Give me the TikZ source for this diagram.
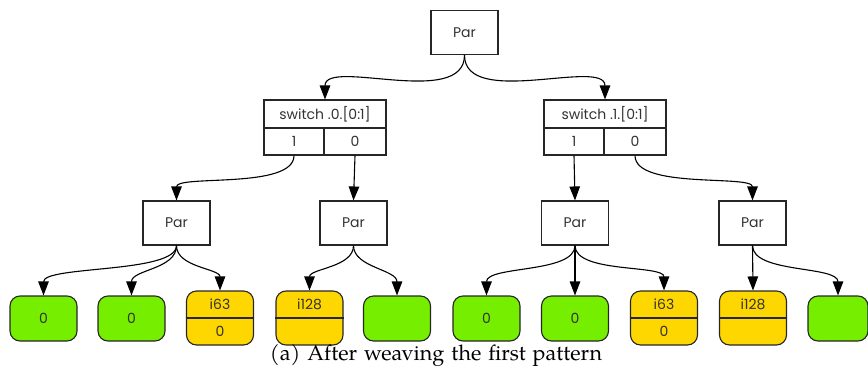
\documentclass[tikz,border=0pt]{standalone}
\usepackage{fontspec}
\usetikzlibrary{arrows.meta}
\newfontfamily\gvfont{Poppins}
\newfontfamily\capfont[WordSpace=1.3]{texgyrepagella-regular.otf}
\definecolor{gvgreen}{RGB}{118,238,0}
\definecolor{gvgold}{RGB}{255,215,0}
\definecolor{gvtext}{RGB}{51,51,51}
\begin{document}
\begin{tikzpicture}[x=1pt,y=-1pt,
  gvline/.style={draw=black!85, line width=1.1pt},
  txt/.style={font=\gvfont\fontsize{14}{14}\selectfont, text=gvtext, inner sep=0pt},
  parbox/.style={gvline, txt, minimum width=67pt, minimum height=44pt},
  hdr/.style={gvline, txt, minimum width=122pt, minimum height=28pt},
  port/.style={gvline, txt, minimum height=27pt},
  leafG/.style={gvline, fill=gvgreen, rounded corners=10pt, minimum width=67pt, minimum height=45pt, txt},
  leafY/.style={gvline, fill=gvgold, rounded corners=10pt, minimum width=67pt, minimum height=54pt, inner sep=0pt},
  arr/.style={line width=1.1pt, draw=black, -{Triangle[length=14pt,width=10.5pt]}},
  captext/.style={font=\capfont\fontsize{21.5}{23}\selectfont, inner sep=0pt}
]
\useasboundingbox (0,0) rectangle (868,370);

% top
\node[parbox] (top) at (464.5,32.5) {Par};

% switch 0
\node[hdr] (s0h) at (325,114) {switch .0.[0:1]};
\node[port, minimum width=60pt] (s0a) at (294,141.5) {1};
\node[port, minimum width=62pt] (s0b) at (355,141.5) {0};
% switch 1
\node[hdr] (s1h) at (605,114) {switch .1.[0:1]};
\node[port, minimum width=60pt] (s1a) at (574,141.5) {1};
\node[port, minimum width=62pt] (s1b) at (635,141.5) {0};

% level 2 Par
\node[parbox] (p1) at (176.5,223) {Par};
\node[parbox] (p2) at (353.5,223) {Par};
\node[parbox] (p3) at (575,223) {Par};
\node[parbox] (p4) at (752.5,223) {Par};

% leaves
\node[leafG] (l1) at (43.5,318.5) {0};
\node[leafG] (l2) at (131.5,318.5) {0};
\node[leafY] (l3) at (220,318) {};
\node[leafY] (l4) at (309.5,318) {};
\node[leafG] (l5) at (397,318.5) {};
\node[leafG] (l6) at (486.5,318.5) {0};
\node[leafG] (l7) at (575,318.5) {0};
\node[leafY] (l8) at (664,318) {};
\node[leafY] (l9) at (753,318) {};
\node[leafG, minimum width=60pt] (l10) at (838,318.5) {};

\foreach \n in {l3,l4,l8,l9} {\draw[gvline] (\n.west) -- (\n.east);}
\node[txt] (l3t) at ([yshift=13.5pt]l3.center) {i63};
\node[txt] (l3b) at ([yshift=-13.5pt]l3.center) {0};
\node[txt] (l4t) at ([yshift=13.5pt]l4.center) {i128};
\node[txt] (l8t) at ([yshift=13.5pt]l8.center) {i63};
\node[txt] (l8b) at ([yshift=-13.5pt]l8.center) {0};
\node[txt] (l9t) at ([yshift=13.5pt]l9.center) {i128};

% edges: top -> switches
\draw[arr] (top.south) .. controls +(0,54) and +(0,-42) .. (s0h.north);
\draw[arr] (top.south) .. controls +(0,54) and +(0,-42) .. (s1h.north);

% switches -> Par
\draw[arr] (s0a.south) .. controls +(0,34) and +(0,-26) .. (p1.north);
\draw[arr] (s0b.south) -- (p2.north);
\draw[arr] (s1a.south) -- (p3.north);
\draw[arr] (s1b.south) .. controls +(0,34) and +(0,-26) .. (p4.north);

% Par -> leaves
\draw[arr] (p1.south) .. controls +(0,28) and +(0,-30) .. (l1.north);
\draw[arr] (p1.south) .. controls +(0,24) and +(0,-26) .. (l2.north);
\draw[arr] (p1.south) .. controls +(0,22) and +(0,-22) .. (l3.north);
\draw[arr] (p2.south) .. controls +(0,22) and +(0,-22) .. (l4.north);
\draw[arr] (p2.south) .. controls +(0,22) and +(0,-26) .. (l5.north);
\draw[arr] (p3.south) .. controls +(0,28) and +(0,-30) .. (l6.north);
\draw[arr] (p3.south) -- (l7.north);
\draw[arr] (p3.south) .. controls +(0,28) and +(0,-26) .. (l8.north);
\draw[arr] (p4.south) -- (l9.north);
\draw[arr] (p4.south) .. controls +(0,28) and +(0,-30) .. (l10.north);

% caption
\node[captext, anchor=base] (caption) at (436,360) {(a) After weaving the first pattern};
\end{tikzpicture}
\end{document}
